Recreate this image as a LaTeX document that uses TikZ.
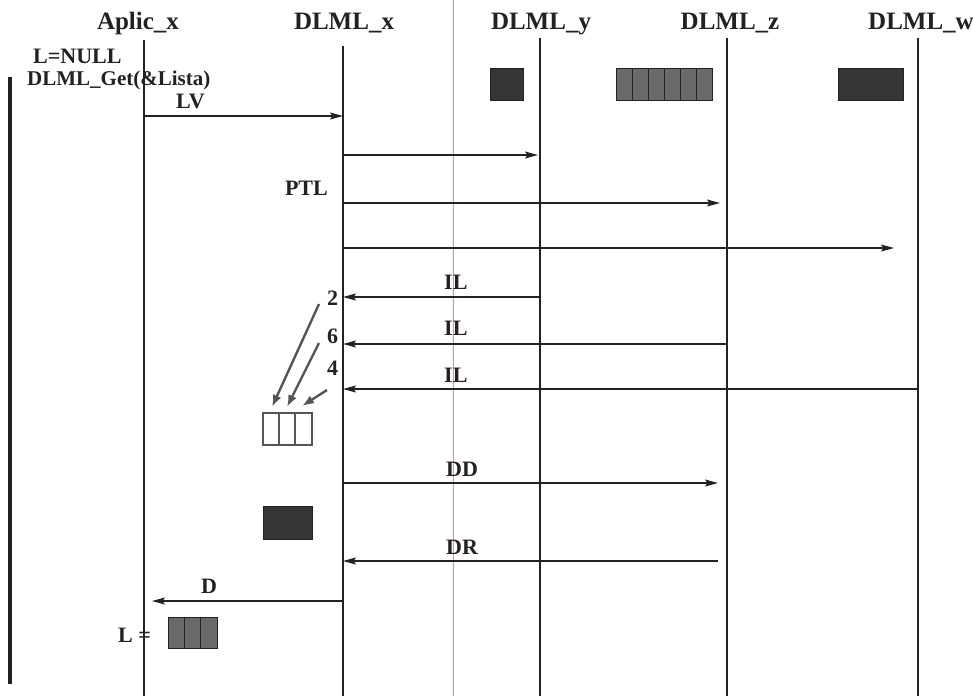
\documentclass[tikz,border=0pt]{standalone}
\usepackage{fontspec}
\setmainfont{Liberation Serif}
\usetikzlibrary{arrows.meta}
\definecolor{ink}{HTML}{222222}
\definecolor{darkfill}{HTML}{353535}
\definecolor{grayfill}{HTML}{6A6A6A}
\definecolor{grayarrow}{HTML}{555555}
\definecolor{pinkline}{HTML}{F080E0}
\tikzset{
  lifeline/.style={draw=ink, line width=1.2pt},
  msg/.style={draw=ink, line width=1.2pt, -{Stealth[length=13pt,width=7pt,inset=2.5pt]}},
  hdr/.style={font=\fontsize{25}{30}\selectfont\bfseries, text=ink, inner sep=0pt, anchor=base},
  lbl/.style={font=\fontsize{22}{26}\selectfont\bfseries, text=ink, inner sep=0pt, anchor=base},
  ptr/.style={draw=grayarrow, line width=2.4pt, -{Latex[length=12pt,width=9pt]}},
  darkbox/.style={draw=ink, fill=darkfill, line width=0.8pt},
  graybox/.style={draw=ink, fill=grayfill, line width=1pt},
  whitebox/.style={draw=grayarrow, fill=white, line width=1.4pt}
}
\begin{document}
\begin{tikzpicture}[x=1pt,y=-1pt]
\useasboundingbox (0,0) rectangle (973,696);
\fill[white] (0,0) rectangle (973,696);
% scan margin line
\draw[pinkline, line width=1pt] (453,0) -- (453,696);

% lifeline coordinates
\coordinate (at) at (144,40);  \coordinate (ab) at (144,696);
\coordinate (xt) at (343,46);  \coordinate (xb) at (343,696);
\coordinate (yt) at (540,38);  \coordinate (yb) at (540,696);
\coordinate (zt) at (727,38);  \coordinate (zb) at (727,696);
\coordinate (wt) at (918,38);  \coordinate (wb) at (918,696);
\draw[lifeline] (at) -- (ab);
\draw[lifeline] (xt) -- (xb);
\draw[lifeline] (yt) -- (yb);
\draw[lifeline] (zt) -- (zb);
\draw[lifeline] (wt) -- (wb);

% left bar
\coordinate (bart) at (10,77); \coordinate (barb) at (10,684);
\draw[ink, line width=3.5pt] (bart) -- (barb);

% headers
\node[hdr] (ha) at (138,29) {Aplic\_x};
\node[hdr] (hx) at (344,29) {DLML\_x};
\node[hdr] (hy) at (541,29) {DLML\_y};
\node[hdr] (hz) at (730,29) {DLML\_z};
\node[hdr] (hw) at (921,29) {DLML\_w};

\node[lbl, anchor=base west] (lnull) at (33,63) {L=NULL};
\node[lbl, anchor=base west, font=\fontsize{21}{26}\selectfont\bfseries] (get) at (27,85) {DLML\_Get(\&Lista)};

% data boxes at top
\draw[darkbox] (490,68) rectangle (523,100);
\draw[graybox] (616,68) rectangle (712,100);
\foreach \i in {1,...,5} {\draw[ink, line width=1pt] (616+16*\i,68) -- (616+16*\i,100);}
\draw[darkbox] (838,68) rectangle (903,100);

% messages
\coordinate (lv1) at (144,116); \coordinate (lv2) at (343,116);
\draw[msg] (lv1) -- (lv2);
\node[lbl, anchor=base west] (lvl) at (176,108) {LV};

\coordinate (m1a) at (343,155); \coordinate (m1b) at (538,155);
\draw[msg] (m1a) -- (m1b);

\node[lbl, anchor=base east] (ptl) at (328,195) {PTL};
\coordinate (m2a) at (343,203); \coordinate (m2b) at (720,203);
\draw[msg] (m2a) -- (m2b);

\coordinate (m3a) at (343,248); \coordinate (m3b) at (894,248);
\draw[msg] (m3a) -- (m3b);

\coordinate (il1a) at (540,297); \coordinate (il1b) at (343,297);
\draw[msg] (il1a) -- (il1b);
\node[lbl, anchor=base west] (il1) at (444,289) {IL};

\coordinate (il2a) at (727,344); \coordinate (il2b) at (343,344);
\draw[msg] (il2a) -- (il2b);
\node[lbl, anchor=base west] (il2) at (444,335) {IL};

\coordinate (il3a) at (918,389); \coordinate (il3b) at (343,389);
\draw[msg] (il3a) -- (il3b);
\node[lbl, anchor=base west] (il3) at (444,382) {IL};

% numbers
\node[lbl, anchor=base west] (n2) at (327,305) {2};
\node[lbl, anchor=base west] (n6) at (327,343) {6};
\node[lbl, anchor=base west] (n4) at (327,375) {4};

% white list box
\draw[whitebox] (263,413) rectangle (312,445);
\draw[grayarrow, line width=1.4pt] (279,413) -- (279,445);
\draw[grayarrow, line width=1.4pt] (295,413) -- (295,445);

\coordinate (p1a) at (319,304); \coordinate (p1b) at (272,407);
\coordinate (p2a) at (319,343); \coordinate (p2b) at (287,407);
\coordinate (p3a) at (327,390); \coordinate (p3b) at (302,406);
\draw[ptr] (p1a) -- (p1b);
\draw[ptr] (p2a) -- (p2b);
\draw[ptr] (p3a) -- (p3b);

% DD
\coordinate (dda) at (343,483); \coordinate (ddb) at (718,483);
\draw[msg] (dda) -- (ddb);
\node[lbl, anchor=base west] (dd) at (446,476) {DD};

\draw[darkbox] (263,506) rectangle (312,539);

% DR
\coordinate (dra) at (718,561); \coordinate (drb) at (343,561);
\draw[msg] (dra) -- (drb);
\node[lbl, anchor=base west] (dr) at (446,554) {DR};

% D
\coordinate (da) at (343,601); \coordinate (db) at (152,601);
\draw[msg] (da) -- (db);
\node[lbl] (dl) at (209,593) {D};

% L = box
\node[lbl, anchor=base east] (leq) at (151,642) {L =};
\draw[graybox] (168,617) rectangle (217,648);
\draw[ink, line width=1pt] (184,617) -- (184,648);
\draw[ink, line width=1pt] (200,617) -- (200,648);
\end{tikzpicture}
\end{document}
